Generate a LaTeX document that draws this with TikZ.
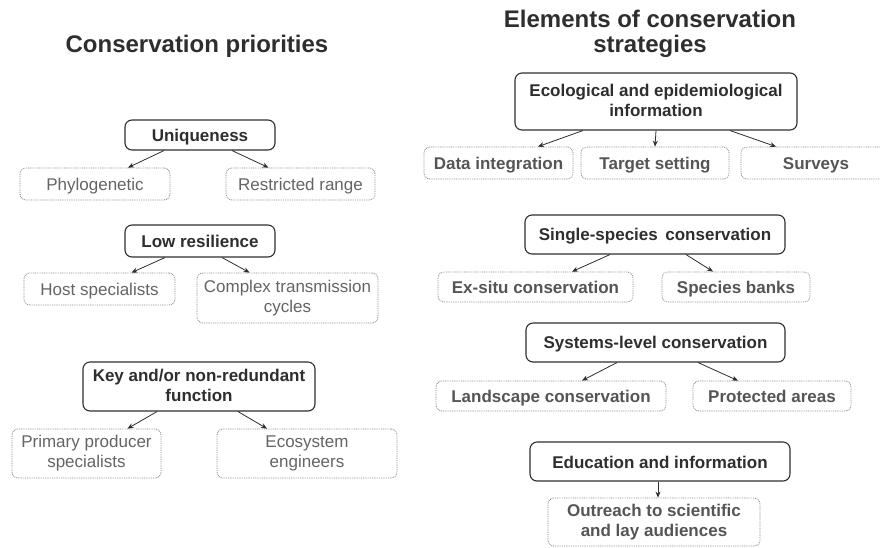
\documentclass[tikz,border=0pt]{standalone}
\usepackage{fontspec}
\setmainfont{Liberation Sans}
\usetikzlibrary{arrows.meta,calc}
\definecolor{boxdark}{HTML}{2E2E2E}
\definecolor{dotgray}{HTML}{8C8C8C}
\definecolor{txtgray}{HTML}{646464}
\definecolor{txtgrayb}{HTML}{555555}
\newcommand{\boxstrut}{\rule[-3pt]{0pt}{19pt}}
\tikzset{
  titletext/.style={font=\fontsize{24}{25}\selectfont\bfseries, text=boxdark, align=center, inner sep=0pt},
  strutted/.style={execute at begin node={\boxstrut}, execute at end node={\boxstrut}},
  mainbox/.style={draw=boxdark, line width=1.1pt, rounded corners=7pt, inner sep=0pt, align=center,
     font=\fontsize{17}{20}\selectfont\bfseries, text=boxdark, strutted},
  subbox/.style={draw=dotgray, line width=0.8pt, dash pattern=on 0.9pt off 0.9pt, rounded corners=6pt,
     inner sep=0pt, align=center, font=\fontsize{17}{20}\selectfont, text=txtgray, strutted},
  subboxb/.style={subbox, font=\fontsize{17}{20}\selectfont\bfseries, text=txtgrayb},
  arr/.style={draw=boxdark, line width=0.8pt, -{Stealth[length=6pt,width=5pt]}},
}
\begin{document}
\begin{tikzpicture}[x=1pt,y=-1pt]
\useasboundingbox (0,0) rectangle (880,547);
% ---------- Left column ----------
\node[titletext, anchor=base] (t1) at (197,52) {Conservation priorities};

\node[mainbox, minimum width=150pt, minimum height=30pt] (u) at (200,135) {Uniqueness};
\node[subbox, minimum width=150pt, minimum height=32pt] (phy) at (95,184) {Phylogenetic};
\node[subbox, minimum width=149pt, minimum height=32pt] (rr) at (300.5,184) {Restricted range};
\draw[arr] ([xshift=-36pt]u.south) -- ([xshift=33pt]phy.north);
\draw[arr] ([xshift=32pt]u.south) -- ([xshift=-32pt]rr.north);

\node[mainbox, minimum width=150pt, minimum height=32pt] (lr) at (200,241) {Low resilience};
\node[subbox, minimum width=151pt, minimum height=32pt] (hs) at (99.5,289) {Host specialists};
\node[subbox, minimum width=181pt, minimum height=50pt] (ct) at (287.5,298) {Complex transmission\\cycles};
\draw[arr] ([xshift=-35pt]lr.south) -- ([xshift=32pt]hs.north);
\draw[arr] ([xshift=22pt]lr.south) -- ([xshift=-38pt]ct.north);

\node[mainbox, minimum width=232pt, minimum height=49pt] (key) at (199,386.5) {Key and/or non-redundant\\function};
\node[subbox, minimum width=149pt, minimum height=49pt] (pps) at (86.5,453.5) {Primary producer\\specialists};
\node[subbox, minimum width=180pt, minimum height=49pt] (ee) at (307,453.5) {Ecosystem\\engineers};
\draw[arr] ([xshift=-42pt]key.south) -- ([xshift=41pt]pps.north);
\draw[arr] ([xshift=39pt]key.south) -- ([xshift=-40pt]ee.north);

% ---------- Right column ----------
\node[titletext, anchor=base] (t2) at (650,27) {Elements of conservation};
\node[titletext, anchor=base] (t3) at (650,52) {strategies};

\node[mainbox, minimum width=282pt, minimum height=57pt] (eco) at (656,101.5) {Ecological and epidemiological\\information};
\node[subboxb, minimum width=149pt, minimum height=32pt] (di) at (498.5,163) {Data integration};
\node[subboxb, minimum width=148pt, minimum height=32pt] (ts) at (655,163) {Target setting};
\node[subboxb, minimum width=150pt, minimum height=32pt] (sv) at (816,163) {Surveys};
\draw[arr] ([xshift=-73pt]eco.south) -- ([xshift=39.5pt]di.north);
\draw[arr] (eco.south) -- (ts.north);
\draw[arr] ([xshift=74pt]eco.south) -- ([xshift=-40pt]sv.north);

\node[mainbox, minimum width=260pt, minimum height=39pt] (ss) at (655,234.5) {Single-species\, conservation};
\node[subboxb, minimum width=195pt, minimum height=30pt] (ex) at (535.5,287) {Ex-situ conservation};
\node[subboxb, minimum width=148pt, minimum height=30pt] (sb) at (736,287) {Species banks};
\draw[arr] ([xshift=-45pt]ss.south) -- ([xshift=36.5pt]ex.north);
\draw[arr] ([xshift=31pt]ss.south) -- ([xshift=-23pt]sb.north);

\node[mainbox, minimum width=259pt, minimum height=39pt] (sl) at (655.5,342.5) {Systems-level conservation};
\node[subboxb, minimum width=230pt, minimum height=30pt] (lc) at (551,396) {Landscape conservation};
\node[subboxb, minimum width=158pt, minimum height=30pt] (pa) at (772,396) {Protected areas};
\draw[arr] ([xshift=-38.5pt]sl.south) -- ([xshift=31pt]lc.north);
\draw[arr] ([xshift=42.5pt]sl.south) -- ([xshift=-34pt]pa.north);

\node[mainbox, minimum width=260pt, minimum height=39pt] (ed) at (660,461.5) {Education and information};
\node[subboxb, minimum width=212pt, minimum height=48pt] (or) at (654,522) {Outreach to scientific\\and lay audiences};
\draw[arr] ([xshift=-2pt]ed.south) -- ([xshift=4pt]or.north);
\end{tikzpicture}
\end{document}
